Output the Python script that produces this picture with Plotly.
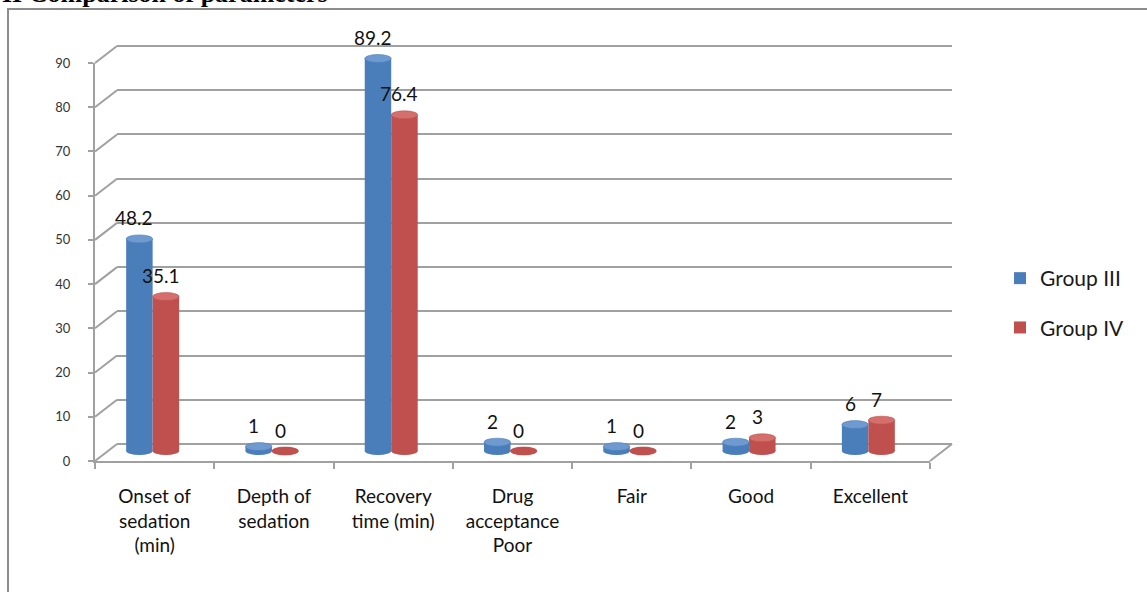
import plotly.graph_objects as go

# ---------------- data ----------------
categories = ["Onset of<br>sedation<br>(min)", "Depth of<br>sedation", "Recovery<br>time (min)",
              "Drug<br>acceptance<br>Poor", "Fair", "Good", "Excellent"]
group3 = [48.2, 1, 89.2, 2, 1, 2, 6]
group4 = [35.1, 0, 76.4, 0, 0, 3, 7]
labels3 = ["48.2", "1", "89.2", "2", "1", "2", "6"]
labels4 = ["35.1", "0", "76.4", "0", "0", "3", "7"]
series_names = ["Group III", "Group IV"]
y_ticks = [0, 10, 20, 30, 40, 50, 60, 70, 80, 90]

# ---------------- styling / layout constants ----------------
W, H = 1147, 592
BLUE, BLUE_TOP = "#4A7EBB", "#6F9AD0"
RED, RED_TOP = "#C0504D", "#D46F6B"
GRID = "#A0A0A0"
FONT = "Lato"

def px_x(p):
    return p / W

def px_y(p):
    return 1 - p / H

# front axis: 0 at y=461, 90 at y=63 ; x from 95 to 930
F_X0, F_X1, F_Y0, F_Y90 = 95, 930, 461, 63
ppu_front = (F_Y0 - F_Y90) / 90.0
# back wall offset
DX, DY = 22, -17
# bar "mid depth" axis
B_X0, B_X1 = 93, 928
B_Y0, ppu_bar = 451, 4.40
B_LO, B_HI = -2, 92
BARGAP = 0.556
bw = (1 - BARGAP) / 2

fig = go.Figure()

# invisible trace to hold the category axis (front)
fig.add_trace(go.Scatter(x=categories, y=[0] * len(categories), mode="markers",
                         marker=dict(opacity=0), showlegend=False, hoverinfo="skip",
                         xaxis="x", yaxis="y"))
# invisible trace on back wall axes
fig.add_trace(go.Scatter(x=[0], y=[0], mode="markers", marker=dict(opacity=0),
                         showlegend=False, hoverinfo="skip", xaxis="x2", yaxis="y2"))

# bars
for name, vals, col, grp in [(series_names[0], group3, BLUE, "g3"), (series_names[1], group4, RED, "g4")]:
    fig.add_trace(go.Bar(x=categories, y=vals, name=name, marker=dict(color=col, line=dict(width=0)),
                         xaxis="x3", yaxis="y3", legendgroup=grp))

shapes = []
annotations = []

# cylinder caps (bottom + top ellipses) and value labels
eh = 4.0 / ppu_bar
for i in range(len(categories)):
    for vals, labs, body, top, sign in [(group3, labels3, BLUE, BLUE_TOP, -1), (group4, labels4, RED, RED_TOP, 1)]:
        cx = i + sign * bw / 2
        v = vals[i]
        shapes.append(dict(type="circle", xref="x3", yref="y3", x0=cx - bw / 2, x1=cx + bw / 2,
                           y0=-eh, y1=eh, fillcolor=body, line=dict(width=0), layer="above"))
        shapes.append(dict(type="circle", xref="x3", yref="y3", x0=cx - bw / 2, x1=cx + bw / 2,
                           y0=v - eh, y1=v + eh, fillcolor=top if v > 0 else body,
                           line=dict(width=0.6, color=body), layer="above"))
        annotations.append(dict(x=cx, y=v, xref="x3", yref="y3", text=labs[i], showarrow=False,
                                yshift=21, xshift=-5, font=dict(family=FONT, size=19, color="#111111")))

# diagonal connectors of the 3D wall (left side at every tick, and floor right)
for t in y_ticks:
    shapes.append(dict(type="line", xref="paper", yref="paper",
                       x0=px_x(F_X0), x1=px_x(F_X0 + DX),
                       y0=px_y(F_Y0 - t * ppu_front), y1=px_y(F_Y0 - t * ppu_front + DY),
                       line=dict(color=GRID, width=2), layer="below"))
shapes.append(dict(type="line", xref="paper", yref="paper",
                   x0=px_x(F_X1), x1=px_x(F_X1 + DX), y0=px_y(F_Y0), y1=px_y(F_Y0 + DY),
                   line=dict(color=GRID, width=2), layer="below"))
# outer frame
shapes.append(dict(type="rect", xref="paper", yref="paper", x0=px_x(8), x1=1.02, y0=-0.02, y1=px_y(9),
                   line=dict(color="#8C8C8C", width=2), fillcolor="rgba(0,0,0,0)", layer="below"))

# cut-off title
annotations.append(dict(x=0, y=px_y(10), xref="paper", yref="paper", xanchor="left", yanchor="bottom",
                        text="<b>II Comparison of parameters</b>", showarrow=False,
                        font=dict(family="Liberation Serif", size=26, color="#000000")))

b_lo_px = B_Y0 - B_LO * ppu_bar
b_hi_px = B_Y0 - B_HI * ppu_bar
back_lo, back_hi = -1, 91
bk_lo_px = F_Y0 + DY - back_lo * ppu_front
bk_hi_px = F_Y0 + DY - back_hi * ppu_front

fig.update_layout(
    width=W, height=H,
    margin=dict(l=0, r=0, t=0, b=0, autoexpand=False),
    paper_bgcolor="white", plot_bgcolor="rgba(0,0,0,0)",
    barmode="group", bargap=BARGAP, bargroupgap=0,
    showlegend=True,
    legend=dict(x=px_x(1000), xanchor="left", y=px_y(303), yanchor="middle",
                font=dict(family=FONT, size=21, color="#1a1a1a"),
                traceorder="grouped", tracegroupgap=19, bgcolor="rgba(0,0,0,0)"),
    xaxis=dict(domain=[px_x(F_X0), px_x(F_X1)], type="category", categoryarray=categories,
               categoryorder="array", range=[-0.5, 6.5], tickson="boundaries",
               showline=True, linecolor=GRID, linewidth=2, ticks="outside", ticklen=6,
               tickcolor=GRID, tickwidth=2, showgrid=False, zeroline=False, anchor="y",
               automargin=False,
               tickfont=dict(family=FONT, size=19, color="#111111"), ticklabelstandoff=17),
    yaxis=dict(domain=[px_y(F_Y0), px_y(F_Y90)], range=[0, 90], tickvals=y_ticks,
               showline=True, linecolor=GRID, linewidth=2, ticks="outside", ticklen=5,
               tickcolor=GRID, tickwidth=2, showgrid=False, zeroline=False, anchor="x",
               automargin=False,
               tickfont=dict(family=FONT, size=13, color="#333333"), ticklabelstandoff=15),
    xaxis2=dict(domain=[px_x(F_X0 + DX), px_x(F_X1 + DX)], range=[-0.5, 6.5], visible=False,
                anchor="y2"),
    yaxis2=dict(domain=[px_y(bk_lo_px), px_y(bk_hi_px)], range=[back_lo, back_hi], tickvals=y_ticks,
                showgrid=True, gridcolor=GRID, gridwidth=2, showticklabels=False, ticks="",
                zeroline=False, showline=False, anchor="x2"),
    xaxis3=dict(domain=[px_x(B_X0), px_x(B_X1)], type="category", categoryarray=categories,
                categoryorder="array", range=[-0.5, 6.5], visible=False, anchor="y3"),
    yaxis3=dict(domain=[px_y(b_lo_px), px_y(b_hi_px)], range=[B_LO, B_HI], visible=False,
                showgrid=False, zeroline=False, anchor="x3"),
    shapes=shapes,
    annotations=annotations,
)

fig.write_html("out.html")
